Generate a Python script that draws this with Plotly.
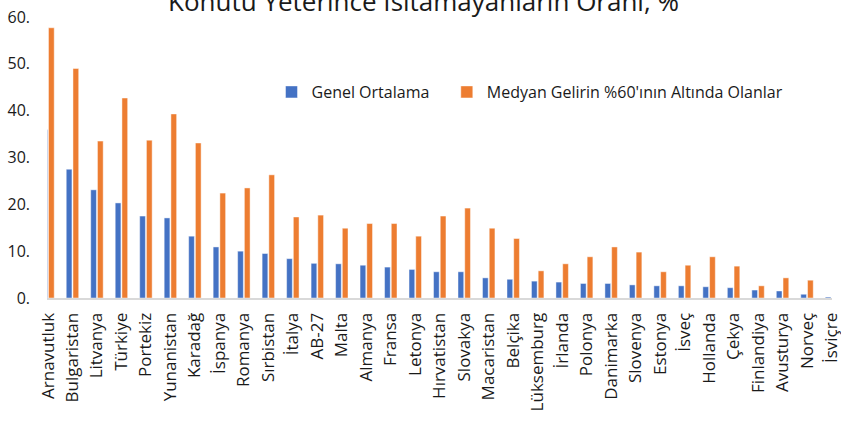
import plotly.graph_objects as go

countries = [
    "Arnavutluk", "Bulgaristan", "Litvanya", "Türkiye", "Portekiz", "Yunanistan",
    "Karadağ", "İspanya", "Romanya", "Sırbistan", "İtalya", "AB-27", "Malta",
    "Almanya", "Fransa", "Letonya", "Hırvatistan", "Slovakya", "Macaristan",
    "Belçika", "Lüksemburg", "İrlanda", "Polonya", "Danimarka", "Slovenya",
    "Estonya", "İsveç", "Hollanda", "Çekya", "Finlandiya", "Avusturya",
    "Norveç", "İsviçre",
]
genel_ortalama = [
    35.9, 27.5, 23.1, 20.3, 17.5, 17.1, 13.2, 10.9, 10.0, 9.5, 8.4, 7.4, 7.3,
    7.0, 6.6, 6.1, 5.6, 5.6, 4.3, 4.0, 3.6, 3.4, 3.1, 3.1, 2.8, 2.6, 2.6,
    2.4, 2.2, 1.7, 1.5, 0.8, 0.2,
]
medyan_alti = [
    57.7, 49.0, 33.5, 42.7, 33.7, 39.3, 33.1, 22.4, 23.5, 26.3, 17.3, 17.7, 14.9,
    15.9, 15.9, 13.2, 17.5, 19.2, 14.9, 12.7, 5.8, 7.3, 8.8, 10.9, 9.8, 5.6,
    7.0, 8.8, 6.8, 2.6, 4.3, 3.8, 1.0,
]
y_ticks = [0, 10, 20, 30, 40, 50, 60]
y_tick_labels = ["0.", "10.", "20.", "30.", "40.", "50.", "60."]

FONT = "Open Sans"
TEXT = "#1a1a1a"

fig = go.Figure()
fig.add_trace(
    go.Bar(
        # trailing nbsp widen the gap to the second legend entry
        name="Genel Ortalama\u00a0\u00a0\u00a0",
        x=countries,
        y=genel_ortalama,
        marker={"color": "#4472C4", "line": {"color": "rgba(255,255,255,0.45)", "width": 1}},
    )
)
fig.add_trace(
    go.Bar(
        name="Medyan Gelirin %60'ının Altında Olanlar",
        x=countries,
        y=medyan_alti,
        marker={"color": "#ED7D31", "line": {"color": "rgba(255,255,255,0.45)", "width": 1}},
    )
)

fig.update_layout(
    width=841,
    height=421,
    barmode="group",
    bargap=0.45,
    bargroupgap=0.15,
    paper_bgcolor="white",
    plot_bgcolor="white",
    margin={"l": 47, "r": 9, "t": 17, "b": 123, "autoexpand": False},
    font={"family": FONT, "color": TEXT, "size": 16},
    legend={
        "orientation": "h",
        "x": 0.286,
        "xanchor": "left",
        "y": 0.733,
        "yanchor": "middle",
        "font": {"family": FONT, "size": 16, "color": TEXT},
        "bgcolor": "rgba(0,0,0,0)",
    },
    xaxis={
        "type": "category",
        "range": [-0.04, 32.02],
        "tickangle": -90,
        "tickfont": {"family": FONT, "size": 17, "color": TEXT},
        "showline": True,
        "linecolor": "#d9d9d9",
        "linewidth": 2,
        "ticks": "outside",
        "ticklen": 6,
        "tickcolor": "rgba(0,0,0,0)",
        "showgrid": False,
        "automargin": False,
    },
    yaxis={
        "range": [0, 60],
        "tickmode": "array",
        "tickvals": y_ticks,
        "ticktext": y_tick_labels,
        "tickfont": {"family": FONT, "size": 16, "color": TEXT},
        "showgrid": False,
        "zeroline": False,
        "showline": False,
        "ticklabelstandoff": 16,
        "automargin": False,
    },
)

# title sits partly above the page edge, as in the source image
fig.add_annotation(
    text="Konutu Yeterince Isıtamayanların Oranı, %",
    xref="paper",
    yref="paper",
    x=0.479,
    y=1.058,
    xanchor="center",
    yanchor="middle",
    showarrow=False,
    font={"family": FONT, "size": 26, "color": TEXT},
)

# drop the default body margin so the 841x421 figure fills the window exactly
fig.write_html(
    "out.html",
    config={"displayModeBar": False},
    post_script="document.body.style.margin = '0px';",
)
